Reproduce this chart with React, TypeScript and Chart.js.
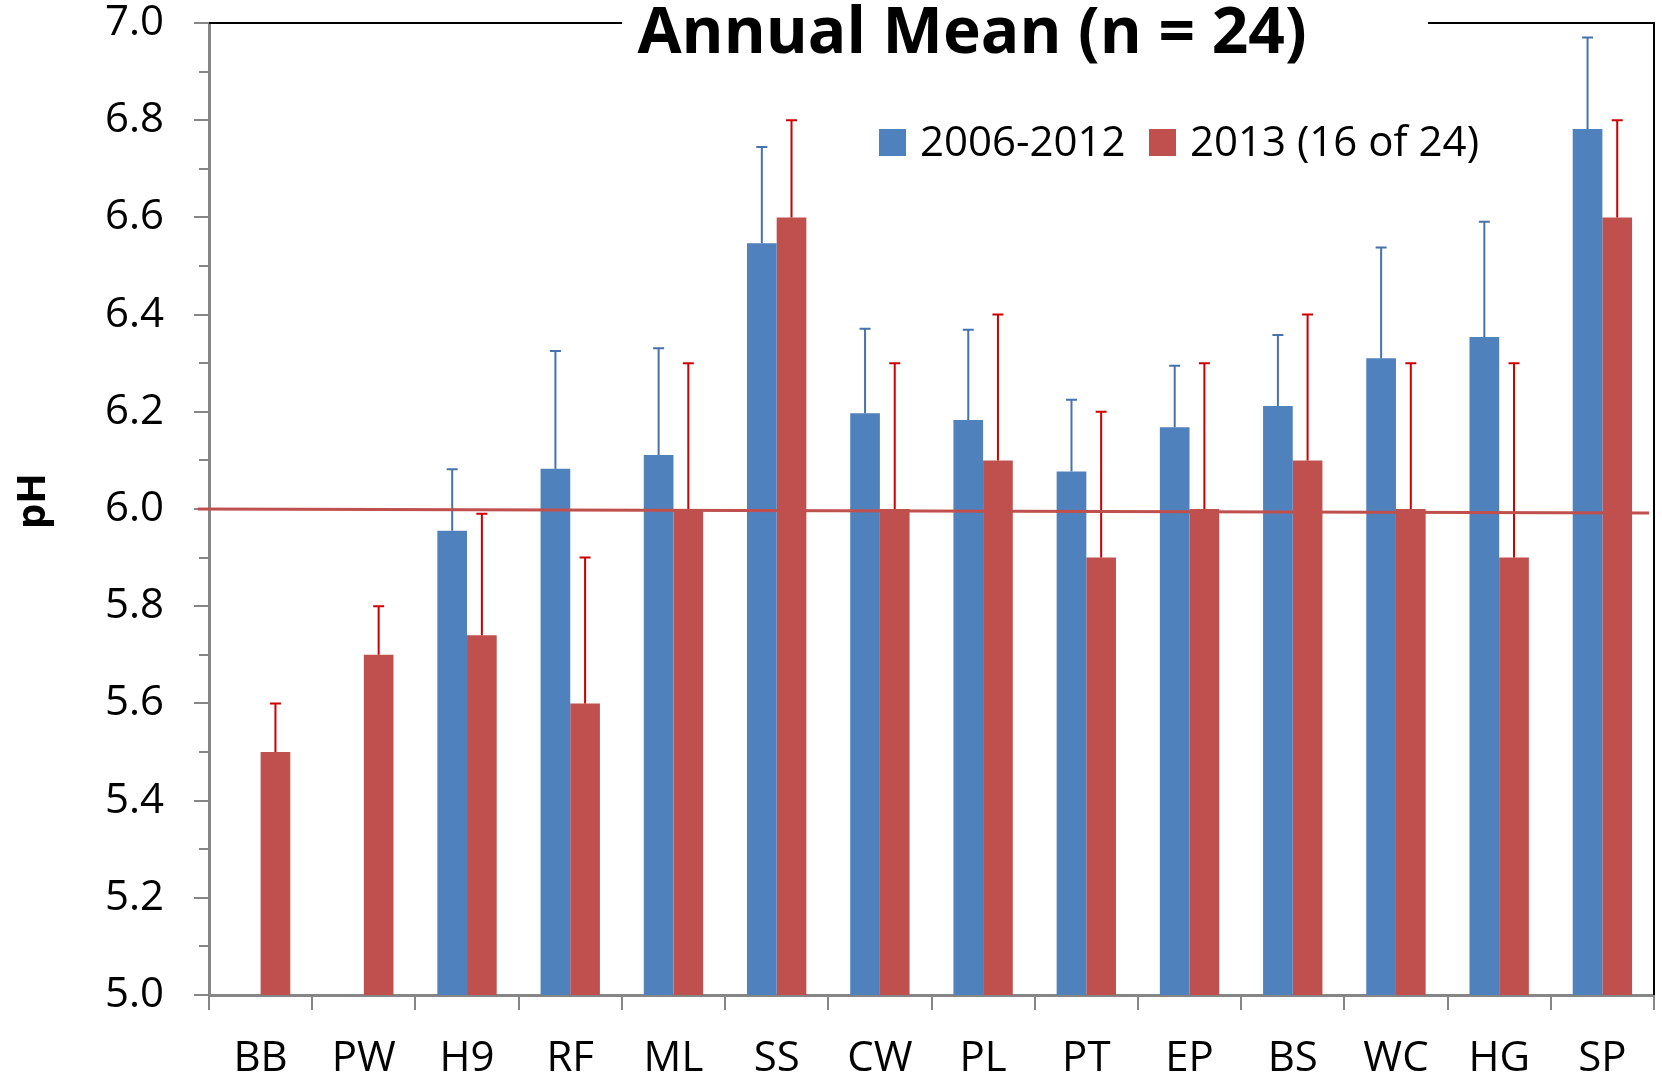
import React, { useEffect, useRef } from 'react';
import { Chart, registerables } from 'chart.js';

Chart.register(...registerables);

const categories = ['BB', 'PW', 'H9', 'RF', 'ML', 'SS', 'CW', 'PL', 'PT', 'EP', 'BS', 'WC', 'HG', 'SP'];
const seriesLabels = ['2006-2012', '2013 (16 of 24)'];
const mean2006 = [null, null, 5.955, 6.083, 6.111, 6.547, 6.197, 6.183, 6.077, 6.168, 6.212, 6.31, 6.354, 6.782];
const error2006 = [null, null, 0.127, 0.242, 0.22, 0.198, 0.174, 0.186, 0.148, 0.127, 0.146, 0.228, 0.237, 0.188];
const mean2013 = [5.5, 5.7, 5.74, 5.6, 6.0, 6.6, 6.0, 6.1, 5.9, 6.0, 6.1, 6.0, 5.9, 6.6];
const error2013 = [0.1, 0.1, 0.25, 0.3, 0.3, 0.2, 0.3, 0.3, 0.3, 0.3, 0.3, 0.3, 0.4, 0.2];
const yMin = 5.0;
const yMax = 7.0;
const yStep = 0.2;
const yMinorStep = 0.1;
const thresholdLine = [6.0, 5.992];
const titleText = 'Annual Mean (n = 24)';
const yAxisTitle = 'pH';

const FONT = '"Open Sans", "DejaVu Sans", sans-serif';
const BAR_COLORS = ['#4f81bd', '#c0504d'];
const ERR_COLORS = ['#4672ad', '#cc0000'];
const AXIS_GRAY = '#868686';

const customPlugin = {
  id: 'customDecor',
  afterDatasetsDraw(chart: any) {
    const ctx = chart.ctx;
    const y = chart.scales.y;
    const { left, right } = chart.chartArea;
    const errs = [error2006, error2013];
    chart.data.datasets.forEach((ds: any, di: number) => {
      const meta = chart.getDatasetMeta(di);
      meta.data.forEach((bar: any, i: number) => {
        const v = ds.data[i];
        const e = errs[di][i];
        if (v == null || e == null) return;
        const yTop = y.getPixelForValue(v + e);
        ctx.save();
        ctx.strokeStyle = ERR_COLORS[di];
        ctx.lineWidth = 2;
        ctx.beginPath();
        ctx.moveTo(bar.x, bar.y);
        ctx.lineTo(bar.x, yTop);
        ctx.moveTo(bar.x - 5.5, yTop);
        ctx.lineTo(bar.x + 5.5, yTop);
        ctx.stroke();
        ctx.restore();
      });
    });
    // threshold line
    ctx.save();
    ctx.strokeStyle = '#c0504d';
    ctx.lineWidth = 3;
    ctx.beginPath();
    ctx.moveTo(left - 11, y.getPixelForValue(thresholdLine[0]));
    ctx.lineTo(right - 5, y.getPixelForValue(thresholdLine[1]));
    ctx.stroke();
    ctx.restore();
  },
  afterDraw(chart: any) {
    const ctx = chart.ctx;
    const y = chart.scales.y;
    const { left, right, top, bottom } = chart.chartArea;
    ctx.save();
    // minor ticks
    ctx.strokeStyle = AXIS_GRAY;
    ctx.lineWidth = 2;
    for (let v = yMin + yMinorStep; v < yMax; v += yStep) {
      const py = Math.round(y.getPixelForValue(v));
      ctx.beginPath();
      ctx.moveTo(left - 10, py);
      ctx.lineTo(left, py);
      ctx.stroke();
    }
    // frame: top + right
    ctx.strokeStyle = '#000000';
    ctx.lineWidth = 2;
    ctx.beginPath();
    ctx.moveTo(left, top);
    ctx.lineTo(622, top);
    ctx.moveTo(1428, top);
    ctx.lineTo(right, top);
    ctx.lineTo(right, bottom);
    ctx.stroke();
    // title
    ctx.fillStyle = '#000000';
    ctx.font = `bold 64px ${FONT}`;
    ctx.textAlign = 'center';
    ctx.textBaseline = 'alphabetic';
    ctx.fillText(titleText, 972, 53);
    // legend
    ctx.font = `42px ${FONT}`;
    ctx.textAlign = 'left';
    const legendItems = [
      { box: 879, text: 920 },
      { box: 1149, text: 1190 },
    ];
    legendItems.forEach((it, i) => {
      ctx.fillStyle = BAR_COLORS[i];
      ctx.fillRect(it.box, 129, 27, 27);
      ctx.fillStyle = '#000000';
      ctx.fillText(seriesLabels[i], it.text, 156);
    });
    // y axis title
    ctx.save();
    ctx.translate(45, 501);
    ctx.rotate(-Math.PI / 2);
    ctx.font = `bold 40px ${FONT}`;
    ctx.textAlign = 'center';
    ctx.textBaseline = 'alphabetic';
    ctx.fillText(yAxisTitle, 0, 0);
    ctx.restore();
    ctx.restore();
  },
};

export default function App() {
  const ref = useRef<HTMLCanvasElement | null>(null);
  useEffect(() => {
    document.body.style.margin = '0';
    const canvas = ref.current;
    if (!canvas) return;
    const chart = new Chart(canvas, {
      type: 'bar',
      data: {
        labels: categories,
        datasets: [
          {
            label: seriesLabels[0],
            data: mean2006 as any,
            backgroundColor: BAR_COLORS[0],
            categoryPercentage: 0.575,
            barPercentage: 1.0,
          },
          {
            label: seriesLabels[1],
            data: mean2013 as any,
            backgroundColor: BAR_COLORS[1],
            categoryPercentage: 0.575,
            barPercentage: 1.0,
          },
        ],
      },
      options: {
        responsive: false,
        animation: false,
        devicePixelRatio: 1,
        layout: { padding: { left: 0, right: 8, top: 23, bottom: 0 } },
        plugins: {
          legend: { display: false },
          title: { display: false },
          tooltip: { enabled: false },
        },
        scales: {
          x: {
            offset: true,
            grid: {
              offset: true,
              drawOnChartArea: false,
              drawTicks: true,
              tickLength: 15,
              color: AXIS_GRAY,
              lineWidth: 2,
            },
            border: { color: AXIS_GRAY, width: 3 },
            ticks: {
              color: '#000000',
              font: { family: FONT, size: 42, lineHeight: 1.2 },
              padding: 24,
              maxRotation: 0,
              autoSkip: false,
            },
            afterFit: (s: any) => {
              s.height = 86;
              s.paddingLeft = 0;
              s.paddingRight = 0;
            },
          },
          y: {
            min: yMin,
            max: yMax,
            grid: {
              drawOnChartArea: false,
              drawTicks: true,
              tickLength: 15,
              color: AXIS_GRAY,
              lineWidth: 2,
            },
            border: { color: AXIS_GRAY, width: 3 },
            ticks: {
              stepSize: yStep,
              color: '#000000',
              font: { family: FONT, size: 42, lineHeight: 1.0 },
              padding: 30,
              callback: (v: any) => Number(v).toFixed(1),
            },
            afterFit: (s: any) => {
              s.width = 209;
              s.paddingTop = 0;
              s.paddingBottom = 0;
            },
          },
        },
      },
      plugins: [customPlugin],
    });
    return () => chart.destroy();
  }, []);
  return (
    <div style={{ width: 1662, height: 1081, background: '#ffffff' }}>
      <canvas ref={ref} width={1662} height={1081} style={{ display: 'block' }} />
    </div>
  );
}
